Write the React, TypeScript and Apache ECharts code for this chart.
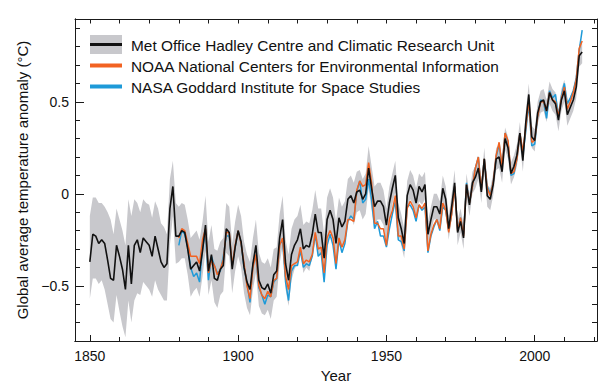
import { useEffect, useRef } from "react";
import * as echarts from "echarts";

const FONT = "'Liberation Sans', Arial, Helvetica, sans-serif";
const GRAY = "#c8c8cc";
const BLACK = "#111111";
const ORANGE = "#f26322";
const BLUE = "#1e9ad8";

const HAD_START = 1850;
const GISS_NOAA_START = 1880;

// Met Office Hadley Centre / CRU (1850-2016)
const hadValues = [
  -0.37, -0.22, -0.23, -0.27, -0.25, -0.27, -0.36, -0.46, -0.47, -0.28,
  -0.34, -0.41, -0.52, -0.28, -0.49, -0.28, -0.25, -0.32, -0.24, -0.26,
  -0.28, -0.34, -0.23, -0.30, -0.37, -0.40, -0.38, -0.08, 0.04, -0.23,
  -0.23, -0.20, -0.21, -0.30, -0.41, -0.39, -0.37, -0.42, -0.31, -0.17,
  -0.42, -0.33, -0.46, -0.47, -0.41, -0.39, -0.19, -0.21, -0.41, -0.29,
  -0.20, -0.26, -0.40, -0.48, -0.52, -0.38, -0.28, -0.47, -0.51, -0.52,
  -0.49, -0.54, -0.44, -0.42, -0.24, -0.14, -0.38, -0.47, -0.33, -0.28,
  -0.25, -0.19, -0.30, -0.28, -0.29, -0.22, -0.11, -0.21, -0.21, -0.35,
  -0.14, -0.09, -0.14, -0.27, -0.13, -0.18, -0.15, -0.03, -0.01, -0.05,
  0.01, 0.02, -0.03, 0.00, 0.14, 0.03, -0.07, -0.04, -0.04, -0.07,
  -0.17, -0.05, 0.03, 0.10, -0.13, -0.19, -0.27, -0.01, 0.05, 0.02,
  -0.05, 0.04, 0.01, 0.05, -0.22, -0.14, -0.07, -0.07, -0.11, 0.03,
  -0.03, -0.19, -0.07, 0.06, -0.21, -0.15, -0.24, 0.05, -0.06, 0.06,
  0.09, 0.14, 0.01, 0.19, -0.01, -0.03, 0.05, 0.19, 0.20, 0.12,
  0.30, 0.25, 0.11, 0.15, 0.21, 0.33, 0.18, 0.39, 0.54, 0.31,
  0.29, 0.44, 0.50, 0.51, 0.45, 0.55, 0.51, 0.49, 0.40, 0.51,
  0.56, 0.43, 0.47, 0.51, 0.58, 0.75, 0.77,
];

const hadUpper = [
  -0.12, -0.02, -0.02, -0.05, -0.05, -0.07, -0.10, -0.14, -0.22, -0.08,
  -0.14, -0.20, -0.28, -0.03, -0.12, -0.03, -0.05, -0.10, -0.03, -0.05,
  -0.06, -0.13, -0.04, -0.08, -0.16, -0.18, -0.22, 0.08, 0.18, -0.05,
  -0.07, -0.05, -0.06, -0.14, -0.24, -0.22, -0.20, -0.25, -0.15, -0.01,
  -0.26, -0.17, -0.30, -0.31, -0.26, -0.24, -0.05, -0.07, -0.27, -0.15,
  -0.06, -0.12, -0.26, -0.33, -0.37, -0.24, -0.14, -0.32, -0.37, -0.38,
  -0.35, -0.40, -0.30, -0.29, -0.11, -0.01, -0.25, -0.33, -0.19, -0.14,
  -0.12, -0.06, -0.17, -0.15, -0.16, -0.09, 0.02, -0.08, -0.08, -0.22,
  -0.02, 0.03, -0.02, -0.15, -0.02, -0.07, -0.04, 0.08, 0.10, 0.06,
  0.12, 0.13, 0.08, 0.11, 0.26, 0.15, 0.04, 0.06, 0.06, 0.02,
  -0.08, 0.04, 0.11, 0.18, -0.05, -0.11, -0.19, 0.07, 0.13, 0.10,
  0.03, 0.11, 0.09, 0.12, -0.15, -0.07, 0.00, 0.00, -0.04, 0.10,
  0.04, -0.12, 0.00, 0.13, -0.14, -0.08, -0.17, 0.11, 0.00, 0.12,
  0.15, 0.20, 0.07, 0.25, 0.05, 0.03, 0.11, 0.25, 0.26, 0.18,
  0.36, 0.31, 0.17, 0.21, 0.27, 0.39, 0.24, 0.45, 0.60, 0.37,
  0.35, 0.50, 0.56, 0.57, 0.51, 0.61, 0.57, 0.55, 0.46, 0.57,
  0.62, 0.49, 0.53, 0.57, 0.64, 0.81, 0.83,
];

const hadLower = [
  -0.57, -0.46, -0.46, -0.49, -0.47, -0.52, -0.60, -0.68, -0.70, -0.55,
  -0.64, -0.72, -0.78, -0.58, -0.70, -0.58, -0.54, -0.55, -0.48, -0.50,
  -0.52, -0.56, -0.47, -0.52, -0.55, -0.58, -0.58, -0.28, -0.12, -0.38,
  -0.37, -0.35, -0.35, -0.44, -0.56, -0.53, -0.51, -0.56, -0.45, -0.31,
  -0.55, -0.47, -0.59, -0.62, -0.55, -0.53, -0.32, -0.34, -0.54, -0.42,
  -0.34, -0.40, -0.54, -0.62, -0.66, -0.52, -0.43, -0.61, -0.65, -0.66,
  -0.63, -0.68, -0.58, -0.56, -0.38, -0.28, -0.52, -0.61, -0.47, -0.41,
  -0.38, -0.31, -0.43, -0.40, -0.42, -0.34, -0.23, -0.33, -0.33, -0.47,
  -0.26, -0.20, -0.25, -0.39, -0.24, -0.29, -0.26, -0.14, -0.12, -0.17,
  -0.10, -0.09, -0.14, -0.11, 0.03, -0.09, -0.18, -0.14, -0.14, -0.17,
  -0.27, -0.15, -0.06, 0.01, -0.22, -0.28, -0.35, -0.09, -0.03, -0.06,
  -0.13, -0.04, -0.06, -0.03, -0.30, -0.21, -0.14, -0.14, -0.18, -0.04,
  -0.10, -0.25, -0.13, 0.00, -0.28, -0.21, -0.30, -0.02, -0.12, 0.00,
  0.03, 0.08, -0.05, 0.13, -0.07, -0.09, -0.01, 0.13, 0.14, 0.06,
  0.24, 0.19, 0.05, 0.09, 0.15, 0.27, 0.12, 0.33, 0.48, 0.25,
  0.23, 0.38, 0.44, 0.45, 0.39, 0.49, 0.45, 0.43, 0.34, 0.45,
  0.50, 0.37, 0.41, 0.45, 0.52, 0.69, 0.71,
];

// NOAA National Centers for Environmental Information (1880-2016)
const noaaValues = [
  -0.24, -0.19, -0.20, -0.27, -0.34, -0.34, -0.34, -0.38, -0.25, -0.19,
  -0.43, -0.36, -0.39, -0.44, -0.41, -0.36, -0.21, -0.21, -0.39, -0.28,
  -0.20, -0.27, -0.38, -0.50, -0.57, -0.40, -0.33, -0.50, -0.55, -0.57,
  -0.53, -0.56, -0.47, -0.46, -0.28, -0.24, -0.45, -0.52, -0.39, -0.38,
  -0.37, -0.29, -0.38, -0.36, -0.37, -0.33, -0.21, -0.30, -0.29, -0.43,
  -0.24, -0.20, -0.24, -0.38, -0.24, -0.29, -0.25, -0.14, -0.14, -0.15,
  0.02, 0.07, 0.04, 0.05, 0.17, 0.06, -0.16, -0.16, -0.19, -0.19,
  -0.28, -0.14, -0.09, -0.01, -0.23, -0.23, -0.30, -0.08, -0.04, -0.07,
  -0.13, -0.06, -0.08, -0.05, -0.31, -0.22, -0.17, -0.14, -0.19, -0.05,
  -0.09, -0.21, -0.11, 0.04, -0.20, -0.13, -0.23, 0.05, -0.05, 0.04,
  0.14, 0.20, 0.02, 0.19, 0.03, -0.01, 0.06, 0.21, 0.28, 0.15,
  0.33, 0.29, 0.11, 0.12, 0.19, 0.33, 0.23, 0.36, 0.51, 0.28,
  0.29, 0.42, 0.50, 0.50, 0.45, 0.55, 0.51, 0.50, 0.42, 0.52,
  0.58, 0.46, 0.50, 0.55, 0.62, 0.79, 0.83,
];

// NASA Goddard Institute for Space Studies (1880-2016)
const nasaValues = [
  -0.28, -0.20, -0.22, -0.29, -0.40, -0.45, -0.43, -0.48, -0.29, -0.22,
  -0.47, -0.34, -0.39, -0.43, -0.42, -0.34, -0.23, -0.23, -0.39, -0.29,
  -0.20, -0.27, -0.40, -0.49, -0.59, -0.38, -0.34, -0.51, -0.55, -0.60,
  -0.55, -0.56, -0.48, -0.46, -0.27, -0.26, -0.48, -0.58, -0.42, -0.39,
  -0.39, -0.31, -0.40, -0.38, -0.39, -0.34, -0.22, -0.34, -0.32, -0.48,
  -0.28, -0.22, -0.28, -0.41, -0.25, -0.32, -0.27, -0.15, -0.12, -0.14,
  0.01, 0.07, -0.05, -0.03, 0.08, -0.03, -0.19, -0.15, -0.23, -0.23,
  -0.29, -0.19, -0.11, -0.04, -0.25, -0.26, -0.31, -0.07, -0.06, -0.09,
  -0.15, -0.06, -0.09, -0.07, -0.32, -0.23, -0.18, -0.14, -0.20, -0.07,
  -0.09, -0.20, -0.11, 0.04, -0.19, -0.13, -0.22, 0.06, -0.05, 0.04,
  0.14, 0.20, 0.02, 0.19, 0.04, 0.00, 0.06, 0.20, 0.27, 0.15,
  0.33, 0.28, 0.10, 0.11, 0.19, 0.33, 0.21, 0.34, 0.49, 0.26,
  0.27, 0.42, 0.51, 0.50, 0.41, 0.56, 0.52, 0.54, 0.42, 0.53,
  0.60, 0.49, 0.52, 0.56, 0.63, 0.78, 0.89,
];

const xMajorTicks = [1850, 1900, 1950, 2000];
const xMinorTicks = [1860, 1870, 1880, 1890, 1910, 1920, 1930, 1940, 1960, 1970, 1980, 1990, 2010, 2020];
const xAllTicks = [1850, 1860, 1870, 1880, 1890, 1900, 1910, 1920, 1930, 1940, 1950, 1960, 1970, 1980, 1990, 2000, 2010, 2020];
const yMajorTicks = [-0.5, 0, 0.5];
const yMinorTicks = [-0.8, -0.7, -0.6, -0.4, -0.3, -0.2, -0.1, 0.1, 0.2, 0.3, 0.4, 0.6, 0.7, 0.8, 0.9];
const yAllTicks = [-0.8, -0.7, -0.6, -0.5, -0.4, -0.3, -0.2, -0.1, 0, 0.1, 0.2, 0.3, 0.4, 0.5, 0.6, 0.7, 0.8, 0.9];

const legendItems = [
  "Met Office Hadley Centre and Climatic Research Unit",
  "NOAA National Centers for Environmental Information",
  "NASA Goddard Institute for Space Studies",
];

const X_MIN = 1845;
const X_MAX = 2021;
const Y_MIN = -0.8;
const Y_MAX = 0.95;

const toPairs = (start: number, vals: number[]) => vals.map((v, i) => [start + i, v]);

export default function App() {
  const ref = useRef<HTMLDivElement>(null);
  useEffect(() => {
    const chart = echarts.init(ref.current!, null, { renderer: "svg" });
    const axisLine = { show: true, onZero: false, lineStyle: { color: "#1a1a1a", width: 1 } };
    const baseX = { type: "value", min: X_MIN, max: X_MAX, splitLine: { show: false }, axisLine };
    const baseY = { type: "value", min: Y_MIN, max: Y_MAX, splitLine: { show: false }, axisLine };
    const tick = (vals: number[], len: number) => ({
      show: true,
      inside: true,
      length: len,
      customValues: vals,
      lineStyle: { color: "#1a1a1a", width: 1 },
    });
    const fmtY = (v: number) => (v === 0 ? "0" : v < 0 ? "\u2212" + String(Math.abs(v)) : String(v));
    const fmtX = (v: number) => String(v);

    const bandData = hadValues.map((_, i) => [HAD_START + i, hadLower[i], hadUpper[i]]);

    const option: any = {
      animation: false,
      backgroundColor: "#ffffff",
      textStyle: { fontFamily: FONT },
      grid: { left: 75, right: 15, top: 19, bottom: 47, containLabel: false },
      xAxis: [
        { ...baseX, position: "bottom", axisTick: tick(xMinorTicks, 4), axisLabel: { show: false } },
        {
          ...baseX,
          position: "bottom",
          axisTick: tick(xMajorTicks, 6),
          axisLabel: { show: true, customValues: xMajorTicks, formatter: fmtX, margin: 8, color: BLACK, fontSize: 14, fontFamily: FONT },
          name: "Year",
          nameLocation: "middle",
          nameGap: 24,
          nameTextStyle: { color: BLACK, fontSize: 15, fontFamily: FONT },
        },
        { ...baseX, position: "top", axisTick: tick(xAllTicks, 4.5), axisLabel: { show: false } },
      ],
      yAxis: [
        { ...baseY, position: "left", axisTick: tick(yMinorTicks, 5), axisLabel: { show: false } },
        {
          ...baseY,
          position: "left",
          axisTick: tick(yMajorTicks, 9),
          axisLabel: { show: true, customValues: yMajorTicks, formatter: fmtY, margin: 6, color: BLACK, fontSize: 14, fontFamily: FONT },
          name: "Global average temperature anomaly (\u00B0C)",
          nameLocation: "middle",
          nameGap: 42,
          nameTextStyle: { color: BLACK, fontSize: 15, fontFamily: FONT },
        },
        { ...baseY, position: "right", axisTick: tick(yAllTicks, 5), axisLabel: { show: false } },
      ],
      series: [
        {
          type: "custom",
          name: "band",
          xAxisIndex: 0,
          yAxisIndex: 0,
          clip: true,
          z: 1,
          data: bandData,
          encode: { x: 0, y: [1, 2] },
          renderItem: (params: any, api: any) => {
            if (params.dataIndex !== 0) return null;
            const pts: number[][] = [];
            for (let i = 0; i < bandData.length; i++) pts.push(api.coord([bandData[i][0], bandData[i][2]]));
            for (let i = bandData.length - 1; i >= 0; i--) pts.push(api.coord([bandData[i][0], bandData[i][1]]));
            return { type: "polygon", shape: { points: pts }, style: { fill: GRAY, stroke: null } };
          },
        },
        {
          type: "line",
          name: legendItems[2],
          xAxisIndex: 0,
          yAxisIndex: 0,
          data: toPairs(GISS_NOAA_START, nasaValues),
          symbol: "none",
          z: 3,
          lineStyle: { color: BLUE, width: 1.5 },
        },
        {
          type: "line",
          name: legendItems[1],
          xAxisIndex: 0,
          yAxisIndex: 0,
          data: toPairs(GISS_NOAA_START, noaaValues),
          symbol: "none",
          z: 4,
          lineStyle: { color: ORANGE, width: 1.5 },
        },
        {
          type: "line",
          name: legendItems[0],
          xAxisIndex: 0,
          yAxisIndex: 0,
          data: toPairs(HAD_START, hadValues),
          symbol: "none",
          z: 5,
          lineStyle: { color: BLACK, width: 1.6 },
        },
      ],
      graphic: [
        { type: "rect", shape: { x: 90, y: 35, width: 32, height: 19 }, style: { fill: GRAY } },
        { type: "line", shape: { x1: 90, y1: 44.5, x2: 122, y2: 44.5 }, style: { stroke: BLACK, lineWidth: 3 } },
        { type: "line", shape: { x1: 90, y1: 65.5, x2: 122, y2: 65.5 }, style: { stroke: ORANGE, lineWidth: 4 } },
        { type: "line", shape: { x1: 90, y1: 86.5, x2: 122, y2: 86.5 }, style: { stroke: BLUE, lineWidth: 4 } },
        ...legendItems.map((t, i) => ({
          type: "text",
          x: 131,
          y: 45 + i * 21,
          style: { text: t, fill: BLACK, fontSize: 15.4, fontFamily: FONT, align: "left", verticalAlign: "middle" },
        })),
      ],
    };
    chart.setOption(option);
    return () => chart.dispose();
  }, []);
  return <div ref={ref} style={{ position: "fixed", left: 0, top: 0, width: 612, height: 388, background: "#fff" }} />;
}
